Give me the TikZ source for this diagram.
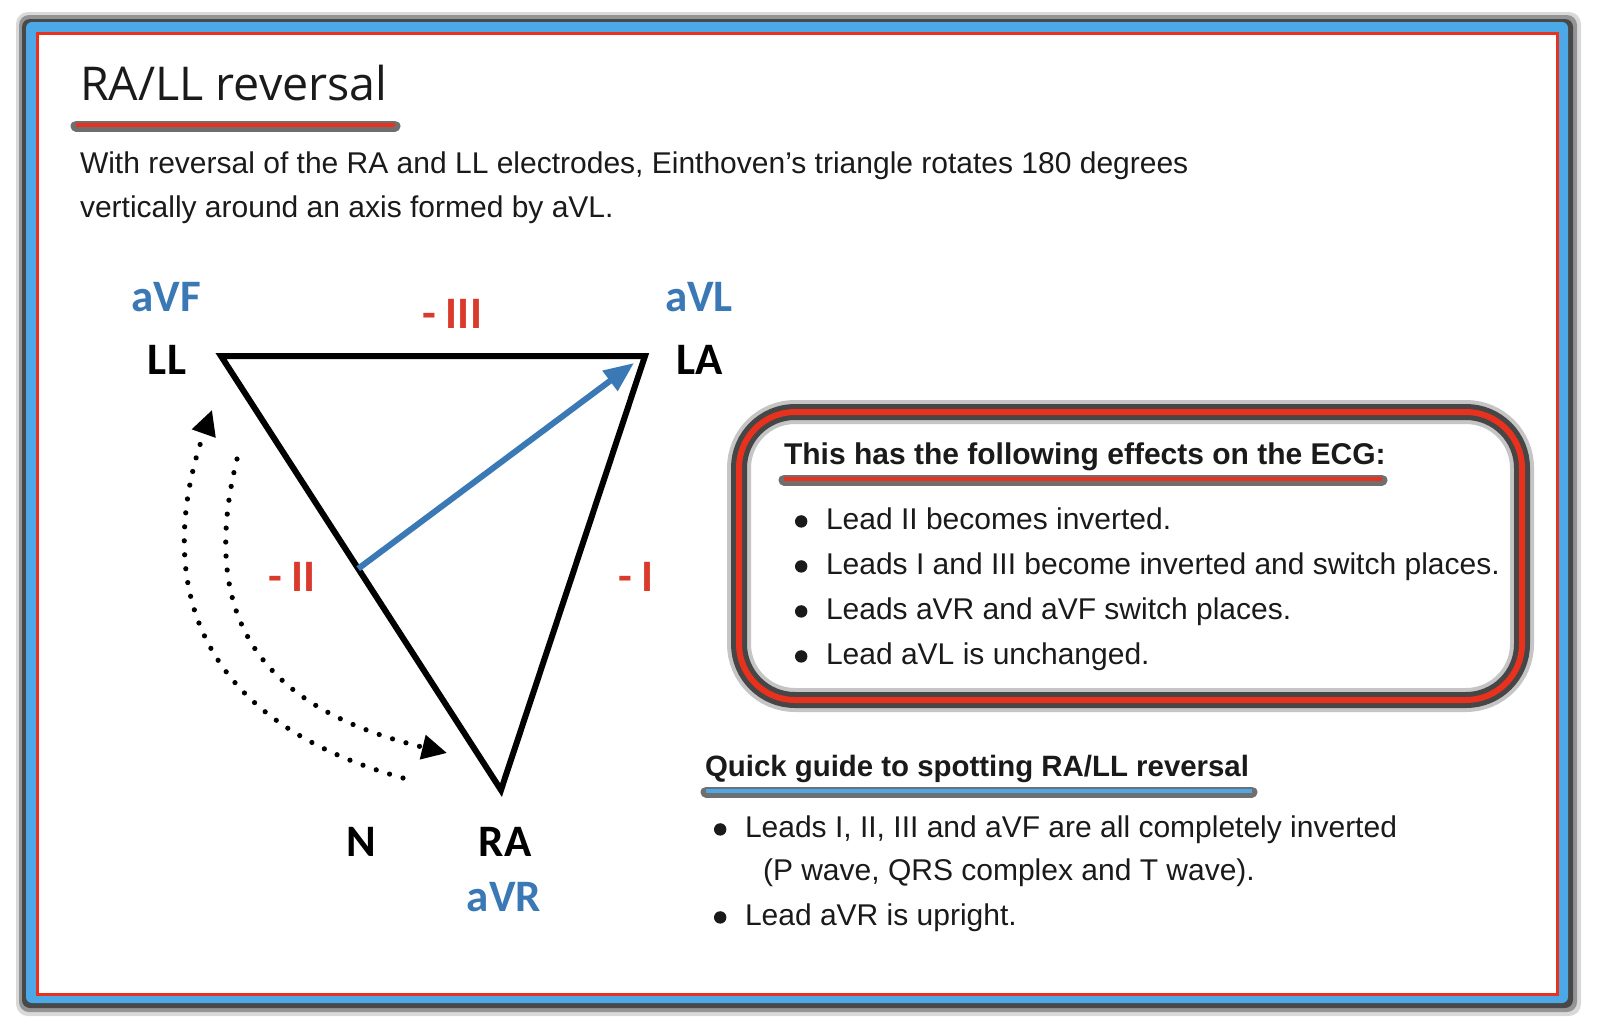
\documentclass[tikz,border=0pt]{standalone}
\usepackage{fontspec}
\setmainfont{Liberation Sans}
\newfontfamily\titlefont{Open Sans}
\newfontfamily\leadfont{Carlito}
\usetikzlibrary{arrows.meta,positioning,calc}

\definecolor{framebl}{HTML}{4DA8E8}
\definecolor{framered}{HTML}{E8321E}
\definecolor{leadblue}{HTML}{3B78B6}
\definecolor{leadred}{HTML}{D93A2B}
\definecolor{shadowgray}{HTML}{404040}
\definecolor{ink}{HTML}{1A1A1A}

\newcommand{\bul}{\makebox[15.5pt][l]{\tikz[baseline=0pt]\fill[ink] (3pt,3.8pt) circle[radius=3.1pt];}}

\begin{document}
\begin{tikzpicture}[
  x=0.5pt, y=-0.5pt,
  every node/.style={inner sep=0pt, outer sep=0pt},
  txt/.style={anchor=base west, text=ink, font=\fontsize{15}{22}\selectfont},
  head/.style={anchor=base west, text=ink, font=\bfseries\fontsize{15}{22}\selectfont},
  electrode/.style={anchor=base, font=\leadfont\bfseries\fontsize{22.5}{26}\selectfont},
  leadlbl/.style={electrode, text=leadblue},
  neglbl/.style={electrode, text=leadred},
  side/.style={line width=3pt, line join=miter},
  dotarc/.style={line width=2.6pt, line cap=round, dash pattern=on 0pt off 7pt,
    -{Triangle[length=12.5pt,width=12pt]}},
  barshadow/.style={shadowgray, line width=5.5pt, line cap=round, opacity=0.75},
  bar/.style={line width=2.4pt}
]
\useasboundingbox (0,0) rectangle (1600,1034);

% frame
\fill[shadowgray, opacity=0.2, rounded corners=6pt] (16,12) rectangle (1581,1016);
\fill[shadowgray, opacity=0.45, rounded corners=5pt] (19,15) rectangle (1577,1012);
\fill[shadowgray, opacity=0.9, rounded corners=4pt] (22,19) rectangle (1573,1008);
\fill[framebl, rounded corners=3pt] (26,22) rectangle (1568,1003);
\fill[white] (37,33) rectangle (1557,994);
\draw[framered, line width=1.5pt] (37,33) rectangle (1557,994);

% title and intro
\node[anchor=base west, text=ink, font=\titlefont\fontsize{23.3}{28}\selectfont] (title) at (80,100) {RA/LL reversal};
\draw[barshadow] (76,126) -- (395,126);
\draw[framered, bar] (76,125) -- (395,125);
\node[txt] (intro1) at (80,173) {With reversal of the RA and LL electrodes, Einthoven’s triangle rotates 180 degrees};
\node[txt] (intro2) at (80,217) {vertically around an axis formed by aVL.};

% Einthoven's triangle
\coordinate (ll) at (221,356);
\coordinate (la) at (645,356);
\coordinate (ra) at (501,790);
\draw[side] (ll) -- (la) -- (ra) -- cycle;
\coordinate (vbase) at ($(ll)!0.49!(ra)$);
\coordinate (vtip) at (634,363);
\draw[leadblue, line width=3pt, -{Triangle[length=15pt,width=12pt]}] (vbase) -- (vtip);

\node[leadlbl] (avf) at (166,311) {aVF};
\node[electrode] (llname) at (167,374) {LL};
\node[neglbl] (iii) at (452,328) {- III};
\node[leadlbl] (avl) at (699,311) {aVL};
\node[electrode] (laname) at (700,374) {LA};
\node[neglbl] (ii) at (292,591) {- II};
\node[neglbl] (i) at (636,591) {- I};
\node[electrode] (nname) at (361,856) {N};
\node[electrode] (raname) at (505,856) {RA};
\node[leadlbl] (avr) at (504,911) {aVR};

% rotation arrows
\coordinate (outs) at (403,778);
\coordinate (oute) at (212,410);
\coordinate (ins) at (237,459);
\coordinate (ine) at (447,753);
\draw[dotarc] (outs) .. controls (155,709) and (168,535) .. (oute);
\draw[dotarc] (ins) .. controls (200,610) and (252,706) .. (ine);

% effects box
\draw[shadowgray, line width=12pt, opacity=0.3, rounded corners=28pt] (739,412) rectangle (1522,700);
\draw[shadowgray, line width=8pt, opacity=0.95, rounded corners=28pt] (739,412) rectangle (1522,700);
\draw[framered, line width=3pt, rounded corners=28pt] (739,412) rectangle (1522,700);
\node[head] (effhead) at (784,464) {This has the following effects on the ECG:};
\draw[barshadow] (784,480) -- (1382,480);
\draw[framered, bar] (784,479) -- (1382,479);
\node[txt] (eff1) at (795,529) {\bul Lead II becomes inverted.};
\node[txt] (eff2) at (795,574) {\bul Leads I and III become inverted and switch places.};
\node[txt] (eff3) at (795,619) {\bul Leads aVR and aVF switch places.};
\node[txt] (eff4) at (795,664) {\bul Lead aVL is unchanged.};

% quick guide
\node[head, font=\bfseries\fontsize{14.7}{22}\selectfont] (quickhead) at (705,776) {Quick guide to spotting RA/LL reversal};
\draw[barshadow] (706,792) -- (1252,792);
\draw[framebl, bar] (706,791) -- (1252,791);
\node[txt] (quick1) at (714,837) {\bul Leads I, II, III and aVF are all completely inverted};
\node[txt] (quick1b) at (763,880) {(P wave, QRS complex and T wave).};
\node[txt] (quick2) at (714,925) {\bul Lead aVR is upright.};
\end{tikzpicture}
\end{document}
